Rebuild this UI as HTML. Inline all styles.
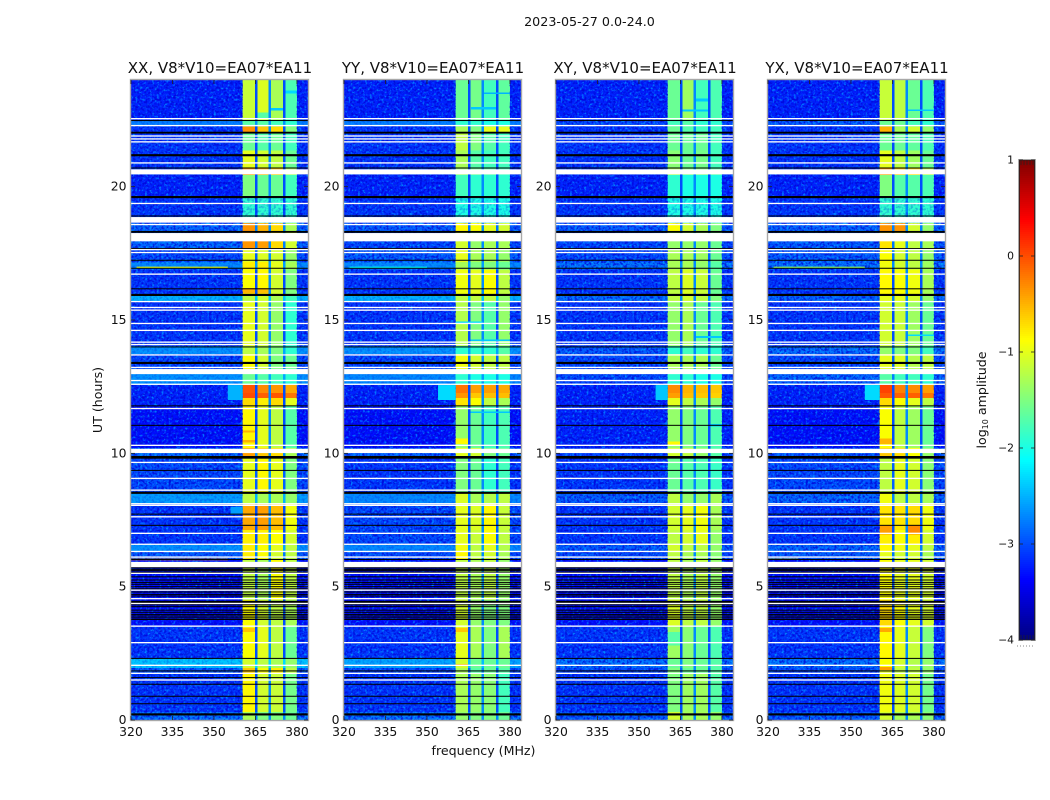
<!DOCTYPE html>
<html lang="en">
<head>
<meta charset="utf-8">
<title>2023-05-27 amplitude waterfall</title>
<style>
html,body{margin:0;padding:0;background:#fff;width:1050px;height:800px;overflow:hidden}
svg{display:block}
text{font-family:"DejaVu Sans","Liberation Sans",sans-serif;fill:#111}
.tick-label{font-size:12.4px}
.panel-title{font-size:15px;text-anchor:middle}
</style>
</head>
<body>
<svg id="figure" width="1050" height="800" viewBox="0 0 1050 800" xmlns="http://www.w3.org/2000/svg">
  <defs>
    <filter id="soften" x="-2%" y="-2%" width="104%" height="104%"><feGaussianBlur stdDeviation="0.35"/></filter>
    <filter id="speckle-light" x="0" y="0" width="100%" height="100%">
      <feTurbulence type="fractalNoise" baseFrequency="0.42" numOctaves="2" seed="4"/>
      <feColorMatrix type="matrix" values="0 0 0 0 0  0 0 0 0 0.42  0 0 0 0 1  3.6 0 0 0 -1.85"/>
    </filter>
    <filter id="speckle-dark" x="0" y="0" width="100%" height="100%">
      <feTurbulence type="fractalNoise" baseFrequency="0.42" numOctaves="2" seed="11"/>
      <feColorMatrix type="matrix" values="0 0 0 0 0  0 0 0 0 0  0 0 0 0 0.66  3.6 0 0 0 -1.55"/>
    </filter>
    <clipPath id="plot-clip"><rect x="0" y="0" width="177" height="640"/></clipPath>
  </defs>
  <rect width="1050" height="800" fill="#fff"/>
  <text x="589.5" y="26" font-size="12.7" text-anchor="middle">2023-05-27 0.0-24.0</text>

  <text class="panel-title" x="220" y="73">XX, V8*V10=EA07*EA11</text>
  <text class="panel-title" x="433" y="73">YY, V8*V10=EA07*EA11</text>
  <text class="panel-title" x="645" y="73">XY, V8*V10=EA07*EA11</text>
  <text class="panel-title" x="857" y="73">YX, V8*V10=EA07*EA11</text>

  <g id="panel-0" transform="translate(131,80)"></g>
  <g id="panel-1" transform="translate(344,80)"></g>
  <g id="panel-2" transform="translate(556,80)"></g>
  <g id="panel-3" transform="translate(768,80)"></g>

  <text x="0" y="0" font-size="12.6" text-anchor="middle" transform="translate(102,400) rotate(-90)">UT (hours)</text>
  <text x="483.5" y="755" font-size="12.6" text-anchor="middle">frequency (MHz)</text>

  <g id="colorbar" transform="translate(1019,160)"></g>
  <text x="0" y="0" font-size="12.6" text-anchor="middle" transform="translate(986,400) rotate(-90)">log<tspan font-size="8" dy="2">10</tspan><tspan dy="-2"> amplitude</tspan></text>
  <line x1="1017" y1="646" x2="1035" y2="646" stroke="#888" stroke-width="1" stroke-dasharray="1 2"/>
</svg>

<script>
// ---- axis ticks ----
const freqTicks = [320, 335, 350, 365, 380];
const hourTicks = [0, 5, 10, 15, 20];
const colorTicks = [1, 0, -1, -2, -3, -4];

// ---- colour and axis ranges ----
const freqRange = [320, 384];
const hourRange = [0, 24];
const levelRange = [-4, 1];

// ---- spectral layout (MHz): background, sub-bands separated by gaps, right edge ----
const channelEdges = [320, 360.4, 364.8, 365.7, 369.8, 370.7, 374.9, 375.8, 380, 384];
// index in each band row: 0 = background, 1..4 = sub-bands, negative = gap number
const channelKinds = [0, 1, -1, 2, -2, 3, -3, 4, 0];
const gapLevels = [-3.0, -2.7, -3.0];

// ---- time bands (upper edge in hours); each runs down to the next ----
const bandTopHours = [24, 22.48, 22.26, 22, 21.36, 20.69, 20.43, 19.6, 18.63, 18.29, 17.69, 17.17, 16.9, 15.93, 15.67, 14.02, 13.72, 13.16, 12.56, 12.26, 12.07, 11.77, 10.2, 9.82, 8.55, 8.1, 7.12, 6.6, 6.3, 6.03, 4.5, 3.52, 2.32, 1.95, 1.76, 0.3];
const noisyBand = 7;

// ---- log10 amplitude per band: [background, sb1, sb2, sb3, sb4] ----
const xxLevels = [[-3.2,-1.15,-1.05,-1.3,-1.75],[-2.75,-1.7,-1.7,-1.8,-1.9],[-3.1,-0.35,-0.6,-0.7,-1.5],[-3.1,-1.6,-1.7,-1.6,-1.8],[-3.1,-1,-1.1,-1.2,-1.6],[-3.1,-0.4,-0.5,-0.6,-1.3],[-3.2,-1.5,-1.6,-1.6,-1.8],[-3.1,-1.9,-1.9,-1.9,-1.9],[-2.85,-0.35,-0.5,-0.7,-1.3],[-2.85,-0.35,-0.4,-0.7,-1.1],[-3,-1,-1.05,-1.1,-1.4],[-2.7,-0.8,-0.8,-1,-1.3],[-3.1,-0.9,-0.85,-1.1,-1.5],[-2.5,-1.2,-1.1,-1.3,-1.8],[-3.1,-1,-1.1,-1.4,-1.9],[-2.65,-1.2,-1.3,-1.5,-1.9],[-3,-0.9,-1.1,-1.5,-1.6],[-2.65,-1.6,-1.7,-1.8,-1.9],[-3.2,-0.05,-0.3,-0.35,-0.45],[-3.2,0,-0.1,-0.05,-0.2],[-3.2,-0.7,-0.8,-0.7,-1],[-3.3,-0.85,-1,-1.2,-1.7],[-2.8,-0.4,-0.6,-0.7,-1.3],[-3,-1,-0.85,-1,-1.5],[-2.6,-1.2,-1.3,-1.3,-1.4],[-3.1,-0.45,-0.4,-0.55,-0.95],[-3.1,-0.8,-0.8,-0.9,-1.1],[-2.65,-0.8,-0.9,-1,-1.2],[-2.9,-0.8,-0.9,-1.1,-1.2],[-3.3,-1.2,-1.3,-0.9,-1.2],[-3.3,-0.9,-1.1,-1.2,-1.3],[-3.1,-0.9,-1,-1.2,-1.6],[-2.4,-1.1,-1.2,-1.3,-1.4],[-2.9,-0.6,-0.9,-0.8,-1.2],[-3.1,-0.85,-1.1,-1.15,-1.55],[-2.8,-1.3,-1.5,-1.5,-1.6]];
const yyLevels = [[-3.2,-1.6,-1.55,-1.8,-1.65],[-2.75,-1.9,-1.9,-2,-2],[-3.1,-1.3,-1.5,-1,-1],[-3.1,-1.2,-1.5,-1.7,-1.8],[-3.1,-1.3,-1.7,-1.8,-1.8],[-3.1,-1.4,-1.6,-1.7,-1.8],[-3.2,-1.8,-1.9,-1.9,-1.9],[-3.1,-2,-2,-2,-2],[-2.9,-0.85,-0.9,-1,-1.1],[-3,-1.1,-1.4,-1.3,-1.3],[-2.9,-1,-1.3,-1.3,-1.4],[-2.7,-1.3,-1.5,-1.5,-1.6],[-3.1,-0.95,-1,-0.9,-1.2],[-2.5,-1.2,-1.2,-1.2,-1.4],[-3.1,-1.25,-1.5,-1.7,-1.4],[-2.65,-1.9,-1.9,-1.9,-1.7],[-3,-0.95,-1.1,-1.2,-1.2],[-2.7,-1.9,-2,-2,-2],[-3.2,-0.2,-0.4,-0.4,-0.45],[-3.2,-0.35,-0.6,-0.55,-0.55],[-3.2,-0.75,-0.9,-1.2,-1.3],[-3.3,-1.4,-1.6,-1.8,-1.75],[-2.85,-1,-1.1,-1.5,-1.6],[-3.1,-1.5,-1.6,-1.9,-1.8],[-2.7,-1.05,-1.3,-1.25,-1.2],[-3,-1,-1.05,-0.85,-1.15],[-3,-1,-1.15,-0.9,-1.2],[-2.7,-0.95,-1.2,-1,-1.25],[-3,-0.85,-1.2,-1.1,-1.3],[-3.3,-1.2,-1.3,-1.2,-1.4],[-3.3,-1.1,-1.4,-1.5,-1.5],[-3.1,-1,-1.3,-1.5,-1.3],[-2.55,-1.1,-1.6,-1.6,-1.6],[-3,-1.3,-1.7,-1.6,-1.7],[-3.1,-1.3,-1.4,-1.45,-1.8],[-2.8,-1.4,-1.5,-1.5,-1.6]];
const xyLevels = [[-3.2,-1.6,-1.35,-1.8,-1.75],[-3,-1.8,-1.7,-1.9,-1.9],[-3.1,-1.6,-1.7,-1.8,-1.8],[-3.1,-1.6,-1.6,-1.6,-1.8],[-3.1,-1.45,-1.6,-1.55,-1.8],[-3.1,-1.3,-1.5,-1.5,-1.7],[-3.2,-1.9,-2,-2,-2],[-3.1,-2,-2,-2,-2],[-2.9,-0.9,-1.1,-1.3,-1.5],[-3,-1.4,-1.4,-1.4,-1.6],[-3,-1.3,-1.3,-1.35,-1.6],[-2.8,-1.3,-1.3,-1.4,-1.7],[-3.1,-1.2,-1.05,-1.15,-1.6],[-2.8,-1.2,-1.1,-1.2,-1.5],[-3.1,-1.4,-1.3,-1.6,-1.75],[-2.9,-1.9,-1.8,-1.9,-1.9],[-3,-1.3,-1.3,-1.3,-1.6],[-3,-1.9,-1.9,-2,-2],[-3.2,-0.3,-0.5,-0.55,-0.6],[-3.2,-0.4,-0.55,-0.6,-0.65],[-3.2,-1,-1.2,-1.3,-1.4],[-3.2,-1.4,-1.5,-1.6,-1.75],[-3,-1.1,-1.2,-1.4,-1.7],[-3.1,-1.6,-1.7,-1.75,-1.85],[-2.9,-1.2,-1.4,-1.4,-1.3],[-3.1,-1.1,-1,-0.95,-1.3],[-3.1,-1.2,-1.1,-1,-1.4],[-2.9,-1.1,-1.2,-1.2,-1.4],[-3,-1.2,-1.3,-1.3,-1.45],[-3.3,-1.2,-1.3,-1.2,-1.4],[-3.3,-1.05,-1.2,-1.2,-1.4],[-3.1,-1.35,-1.45,-1.6,-1.75],[-2.8,-1.6,-1.5,-1.6,-1.7],[-3,-1.5,-1.6,-1.6,-1.7],[-3.1,-1.5,-1.35,-1.35,-1.7],[-2.9,-1.1,-1.3,-1.3,-1.4]];
const yxLevels = [[-3.2,-1.15,-1.2,-1.6,-1.75],[-2.9,-1.6,-1.6,-1.8,-1.9],[-3.1,-0.5,-1.3,-1.1,-1.4],[-3.1,-1.6,-1.6,-1.65,-1.75],[-3.1,-1,-1.2,-1.35,-1.6],[-3.1,-0.4,-0.6,-0.7,-1.2],[-3.2,-1.5,-1.7,-1.7,-1.75],[-3.1,-1.9,-1.9,-1.9,-1.9],[-2.85,-0.35,-0.4,-1.1,-1.4],[-2.9,-0.75,-1,-1.2,-1.3],[-2.9,-0.9,-1.1,-1.2,-1.4],[-2.8,-0.95,-1.1,-1.2,-1.35],[-3.1,-0.85,-0.9,-0.95,-1.3],[-2.85,-1,-1,-1.1,-1.4],[-3.1,-1.1,-1.15,-1.35,-1.6],[-2.8,-1.4,-1.5,-1.5,-1.8],[-3,-1,-1.05,-1.25,-1.2],[-2.85,-1.7,-1.8,-1.8,-1.9],[-3.2,0.05,-0.25,-0.3,-0.4],[-3.2,-0.05,-0.1,-0.1,-0.2],[-3.2,-0.7,-0.9,-1,-1.2],[-3.3,-0.9,-1.2,-1.35,-1.6],[-2.9,-0.6,-0.7,-0.9,-1.4],[-3,-1.2,-1,-1.1,-1.45],[-2.85,-0.95,-1.2,-1.2,-1.3],[-3.1,-0.75,-0.75,-0.7,-0.95],[-3.1,-0.8,-0.9,-0.8,-1.1],[-2.85,-0.85,-0.95,-1,-1.2],[-2.9,-1,-1.1,-1.1,-1.3],[-3.3,-0.9,-1,-1,-1.1],[-3.3,-0.7,-0.9,-1,-1.1],[-3.1,-0.85,-1,-1.15,-1.5],[-2.8,-0.9,-1.1,-1.25,-1.4],[-3,-1,-1.2,-1.2,-1.4],[-3.1,-0.95,-1.05,-1.1,-1.55],[-2.9,-1.1,-1.3,-1.3,-1.45]];
const panelLevels = [xxLevels, yyLevels, xyLevels, yxLevels];

// ---- narrowband events: [panel, top hour, bottom hour, start MHz, end MHz, level] ----
const rfiEvents = [[0,17.0,16.95,322,355,-1.0],[0,6.05,5.99,320,355,-0.3],[1,17.0,16.95,322,350,-2.1],[3,17.0,16.95,322,355,-1.4],[3,6.05,6.0,320,331,-0.8],[0,12.56,12.0,355,360.4,-2.5],[1,12.56,12.0,354,360.4,-2.3],[2,12.56,12.0,356,360.4,-2.4],[3,12.56,12.0,355,360.4,-2.3],[0,8.0,7.7,356,360.4,-2.6]];

// ---- features inside the sub-bands: same columns as rfiEvents ----
const bandFeatures = [
  [0,22.79,22.56,365.7,369.8,-1.7],[0,22.95,22.85,370.7,374.9,-2.4],[0,23.6,23.5,375.8,380,-2.3],[0,16.2,16.0,360.4,364.8,-0.5],[0,16.2,16.0,365.7,369.8,-0.55],[0,10.85,10.78,360.4,364.8,-0.5],[0,10.5,10.4,360.4,364.8,-0.5],[0,3.45,3.3,360.4,364.8,-0.6],
  [1,23.54,23.48,370.7,380,-2.5],[1,22.98,22.9,366,375,-2.4],[1,14.94,14.88,360.4,370,-2.3],[1,14.27,14.21,365.7,380,-2.4],[1,11.57,11.51,365.7,380,-2.4],[1,10.55,10.35,360.4,364.8,-0.85],[1,3.45,3.3,360.4,364.8,-0.6],[1,2.1,2.02,360.4,364.8,-0.5],
  [2,23.3,23.2,370.7,374.9,-2.4],[2,22.9,22.82,365.7,374.9,-2.4],[2,14.4,14.33,370.7,380,-2.4],[2,11.1,11.0,375.8,380,-2.4],[2,3.3,2.8,360.4,364.8,-1.7],[2,10.45,10.3,360.4,364.8,-0.85],
  [3,22.9,22.84,370.7,380,-2.4],[3,14.46,14.4,370.7,380,-2.3],[3,10.55,10.35,360.4,364.8,-0.5],[3,7.3,6.95,360.4,364.8,-0.4],[3,7.3,6.95,370.7,374.9,-0.3],[3,3.45,3.3,360.4,364.8,-0.45],[3,1.98,1.88,360.4,364.8,-0.4],[3,18.62,18.38,365.7,369.8,-0.35]
];

// ---- flagged samples, hours: white = no data, black = below range ----
const whiteLines = [22.55,22.29,21.9,21.79,21.68,20.89,19.37,18.58,17.64,17.53,16.72,15.69,15.47,15.37,14.87,14.61,14.17,14.08,13.69,13.22,12.73,12.59,11.68,10.3,9.66,9.06,8.62,8.11,8.05,7.62,7,6.59,6.32,6.11,5.5,4.87,4.55,4.37,3.52,2.9,2.05,1.75,1.5];
const whiteBlocks = [[20.65,20.46],[18.86,18.65],[18.26,17.95],[13.16,12.97],[10.17,10.01],[5.93,5.73]];
const blackLines = [22.48,20.7,18.9,17.68,17.24,16.94,16.17,13.99,11.78,11.05,9.36,7.72,7.3,6.02,5.64,5.6,5.54,5.37,5.25,5.16,5.09,5,4.92,4.8,4.71,4.65,4.32,4.25,4.12,4.04,3.96,3.9,3.83,3.77,2.31,1.84,1.59,1.34,0.89,0.61];
const blackBlocks = [[22.06,21.99],[21.22,21.14],[19.65,19.57],[18.34,18.27],[15.98,15.9],[13.43,13.35],[9.9,9.8],[8.56,8.48],[5.73,5.68],[4.47,4.39],[0.25,0.17]];

const whiteLineHours = 0.05;
const blackLineHours = 0.038;
const NS = 'http://www.w3.org/2000/svg';
const plotW = 177, plotH = 640, barW = 16, barH = 480;

function xScale(mhz) { return (mhz - freqRange[0]) / (freqRange[1] - freqRange[0]) * plotW; }
function yScale(hour) { return (hourRange[1] - hour) / (hourRange[1] - hourRange[0]) * plotH; }
function barScale(level) { return (levelRange[1] - level) / (levelRange[1] - levelRange[0]) * barH; }

function jet(level) {
  const t = Math.min(1, Math.max(0, (level - levelRange[0]) / (levelRange[1] - levelRange[0])));
  const c = (v) => Math.round(255 * Math.min(1, Math.max(0, v)));
  const r = Math.min(4 * t - 1.5, -4 * t + 4.5);
  const g = Math.min(4 * t - 0.5, -4 * t + 3.5);
  const b = Math.min(4 * t + 0.5, -4 * t + 2.5);
  return 'rgb(' + c(r) + ',' + c(g) + ',' + c(b) + ')';
}

function make(tag, parent, attrs) {
  const el = document.createElementNS(NS, tag);
  for (const k in attrs) el.setAttribute(k, attrs[k]);
  parent.appendChild(el);
  return el;
}

panelLevels.forEach((levels, p) => {
  const panel = document.getElementById('panel-' + p);
  const clipped = make('g', panel, { 'clip-path': 'url(#plot-clip)' });
  
  
  const cells = make('g', clipped, { filter: 'url(#soften)', 'shape-rendering': 'crispEdges' });
  
  

  levels.forEach((row, b) => {
    const top = bandTopHours[b];
    const bottom = b + 1 < bandTopHours.length ? bandTopHours[b + 1] : hourRange[0];
    channelKinds.forEach((kind, c) => {
      const level = kind < 0 ? Math.max(gapLevels[-kind - 1], row[0] + 0.1) : row[kind];
      const x0 = xScale(channelEdges[c]);
      const x1 = xScale(channelEdges[c + 1]);
      const y0 = yScale(top);
      const y1 = yScale(bottom);
      const cell = make('rect', cells, { x: x0, y: y0, width: x1 - x0, height: y1 - y0, fill: jet(level) });
      
      
    });
  });

  bandFeatures.filter((e) => e[0] === p).forEach((e) => {
    const ft = make('rect', cells, { x: xScale(e[3]), y: yScale(e[1]), width: xScale(e[4]) - xScale(e[3]), height: yScale(e[2]) - yScale(e[1]), fill: jet(e[5]) });
    
    
  });

  // receiver-noise speckle over the out-of-band background; faint on the bright strips
  levels.forEach((row, b) => {
    const top = bandTopHours[b];
    const bottom = b + 1 < bandTopHours.length ? bandTopHours[b + 1] : hourRange[0];
    const strength = row[0] > -2.8 ? 0.25 : 0.75;
    [[channelEdges[0], channelEdges[1]], [channelEdges[8], channelEdges[9]]].forEach((span) => {
      ['speckle-light', 'speckle-dark'].forEach((id) => {
        const noise = make('rect', clipped, { x: xScale(span[0]), y: yScale(top), width: xScale(span[1]) - xScale(span[0]), height: yScale(bottom) - yScale(top), filter: 'url(#' + id + ')', opacity: strength });
        
        
      });
    });
    if (b === noisyBand) {
      const noisy = make('rect', clipped, { x: xScale(channelEdges[1]), y: yScale(top), width: xScale(channelEdges[8]) - xScale(channelEdges[1]), height: yScale(bottom) - yScale(top), filter: 'url(#speckle-dark)', opacity: 0.28 });
      
      
    }
  });

  rfiEvents.filter((e) => e[0] === p).forEach((e) => {
    const ev = make('rect', clipped, { x: xScale(e[3]), y: yScale(e[1]), width: xScale(e[4]) - xScale(e[3]), height: yScale(e[2]) - yScale(e[1]), fill: jet(e[5]) });
    
    
  });

  const drawFlag = (top, bottom, color) => {
    const f = make('rect', clipped, { x: 0, y: yScale(top), width: plotW, height: Math.max(1, yScale(bottom) - yScale(top)), fill: color });
    
    
  };
  blackLines.forEach((h) => drawFlag(h + blackLineHours / 2, h - blackLineHours / 2, '#000'));
  blackBlocks.forEach((s) => drawFlag(s[0], s[1], '#000'));
  whiteLines.forEach((h) => drawFlag(h + whiteLineHours / 2, h - whiteLineHours / 2, '#fff'));
  whiteBlocks.forEach((s) => drawFlag(s[0], s[1], '#fff'));

  const frame = make('rect', panel, { x: -0.5, y: -0.5, width: plotW + 1, height: plotH + 1, fill: 'none', stroke: '#a8a8a8', 'stroke-width': 1.4 });
  
  

  freqTicks.forEach((f) => {
    const x = xScale(f);
    [[plotH, plotH - 4], [0, 4]].forEach((pair) => {
      const t = make('line', panel, { x1: x, x2: x, y1: pair[0], y2: pair[1], stroke: '#222', 'stroke-width': 0.8 });
      
      
    });
    const label = make('text', panel, { x: x, y: plotH + 16, 'text-anchor': 'middle', class: 'tick-label' });
    label.textContent = f;
    
    
  });

  hourTicks.forEach((h) => {
    const y = yScale(h);
    [[0, 4], [plotW, plotW - 4]].forEach((pair) => {
      const t = make('line', panel, { x1: pair[0], x2: pair[1], y1: y, y2: y, stroke: '#222', 'stroke-width': 0.8 });
      
      
    });
    const label = make('text', panel, { x: -4.5, y: y + 4, 'text-anchor': 'end', class: 'tick-label' });
    label.textContent = h;
    
    
  });
});

// ---- colorbar ----
const bar = document.getElementById('colorbar');
for (let y = 0; y < barH; y += 2) {
  const level = levelRange[1] - (y + 1) / barH * (levelRange[1] - levelRange[0]);
  const s = make('rect', bar, { x: 0, y: y, width: barW, height: 2.2, fill: jet(level), 'shape-rendering': 'crispEdges' });
  
  
}
const barInner = make('rect', bar, { x: 0.5, y: 0, width: barW - 1, height: barH, fill: 'none', stroke: '#222', 'stroke-width': 0.8 });


const barFrame = make('rect', bar, { x: -0.5, y: -0.5, width: barW + 1, height: barH + 1, fill: 'none', stroke: '#aaa', 'stroke-width': 1 });



colorTicks.forEach((v) => {
  const y = barScale(v);
  [[0, 4], [barW, barW - 4]].forEach((pair) => {
    const t = make('line', bar, { x1: pair[0], x2: pair[1], y1: y, y2: y, stroke: '#222', 'stroke-width': 0.8 });
    
    
  });
  const label = make('text', bar, { x: -5, y: y + 3.5, 'text-anchor': 'end', 'font-size': 10.8 });
  label.textContent = String(v).replace('-', '\u2212');
  
  
});

[2, 5, 8, 11, 14].forEach((x) => {
  [[0, 5], [barH - 5, barH]].forEach((pair) => {
    const t = make('line', bar, { x1: x, x2: x, y1: pair[0], y2: pair[1], stroke: '#222', 'stroke-width': 0.7 });
    
    
  });
});
</script>
</body>
</html>
